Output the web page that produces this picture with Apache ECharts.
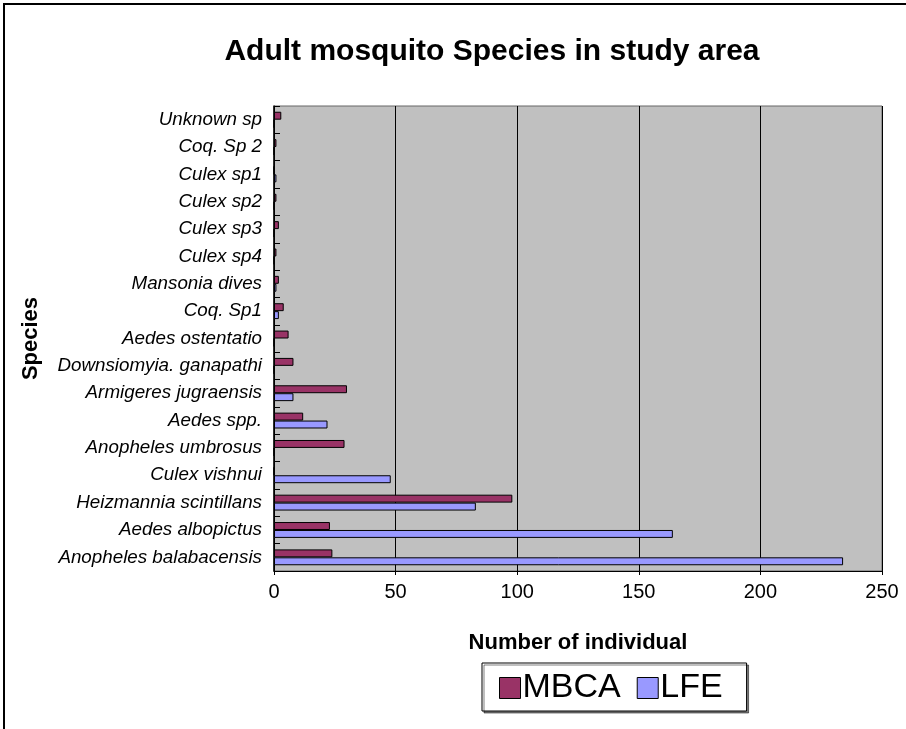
<!DOCTYPE html>
<html>
<head>
<meta charset="utf-8">
<script src="https://cdn.jsdelivr.net/npm/echarts@6/dist/echarts.min.js"></script>
<style>
  html, body { margin: 0; padding: 0; background: #fff; }
  #chart { width: 906px; height: 729px; }
</style>
</head>
<body>
<div id="chart"></div>
<script>
// Species, listed bottom to top as they appear on the category axis
const species = [
  'Anopheles balabacensis', 'Aedes albopictus', 'Heizmannia scintillans',
  'Culex vishnui', 'Anopheles umbrosus', 'Aedes spp.', 'Armigeres jugraensis',
  'Downsiomyia. ganapathi', 'Aedes ostentatio', 'Coq. Sp1', 'Mansonia dives',
  'Culex sp4', 'Culex sp3', 'Culex sp2', 'Culex sp1', 'Coq. Sp 2', 'Unknown sp'
];
// Individuals caught per site
const mbca = [24, 23, 98, 0, 29, 12, 30, 8, 6, 4, 2, 1, 2, 1, 0, 1, 3];
const lfe  = [234, 164, 83, 48, 0, 22, 8, 0, 0, 2, 1, 0, 0, 0, 1, 0, 0];
const xTicks = [0, 50, 100, 150, 200, 250];

const chart = echarts.init(document.getElementById('chart'));
const font = 'Arial, "Liberation Sans", sans-serif';

chart.setOption({
  animation: false,
  title: {
    text: 'Adult mosquito Species in study area',
    left: 487, top: 32, textAlign: 'center',
    textStyle: { fontFamily: font, fontSize: 30, fontWeight: 'bold', color: '#000' }
  },
  graphic: [{
    type: 'rect', silent: true, z: -1,
    shape: { x: 4, y: 4, width: 920, height: 760 },
    style: { fill: 'none', stroke: '#000', lineWidth: 2 }
  }],
  legend: {
    data: ['MBCA', 'LFE'],
    left: 482, top: 663,
    padding: [8, 24, 6, 17],
    itemWidth: 21, itemHeight: 21, itemGap: 16,
    backgroundColor: '#fff', borderColor: '#000', borderWidth: 1,
    shadowColor: 'rgba(0,0,0,0.5)', shadowOffsetX: 2, shadowOffsetY: 2,
    icon: 'rect',
    itemStyle: { borderColor: '#000', borderWidth: 1 },
    textStyle: { fontFamily: font, fontSize: 34, color: '#000', padding: [4, 0, 0, -3] }
  },
  grid: {
    left: 274, right: 24, top: 106, bottom: 158,
    show: true, backgroundColor: '#C0C0C0', borderColor: '#666', borderWidth: 1
  },
  xAxis: {
    type: 'value', min: 0, max: 250, interval: 50,
    name: 'Number of individual', nameLocation: 'middle', nameGap: 61,
    nameTextStyle: { fontFamily: font, fontSize: 22, fontWeight: 'bold', color: '#000' },
    axisLine: { show: true, lineStyle: { color: '#000', width: 1 } },
    axisTick: { show: true, length: 4, lineStyle: { color: '#000' } },
    axisLabel: {
      fontFamily: font, fontSize: 20, color: '#000', margin: 11,
      formatter: v => xTicks.includes(v) ? String(v) : ''
    },
    splitLine: { show: true, lineStyle: { color: '#000', width: 1 } }
  },
  yAxis: {
    type: 'category', data: species,
    name: 'Species', nameLocation: 'middle', nameGap: 232, nameRotate: 90,
    nameTextStyle: { fontFamily: font, fontSize: 22, fontWeight: 'bold', color: '#000' },
    axisLine: { show: true, lineStyle: { color: '#000', width: 1.5 } },
    axisTick: { show: true, inside: true, length: 6, lineStyle: { color: '#000' } },
    axisLabel: { fontFamily: font, fontSize: 18.8, fontStyle: 'italic', color: '#000', margin: 12 }
  },
  series: [
    {
      name: 'MBCA', type: 'bar', data: mbca,
      barGap: '0%', barCategoryGap: '42%',
      itemStyle: { color: '#993366', borderColor: '#000', borderWidth: 1 }
    },
    {
      name: 'LFE', type: 'bar', data: lfe,
      barGap: '0%', barCategoryGap: '42%',
      itemStyle: { color: '#9999FF', borderColor: '#000', borderWidth: 1 }
    }
  ]
});
</script>
</body>
</html>
